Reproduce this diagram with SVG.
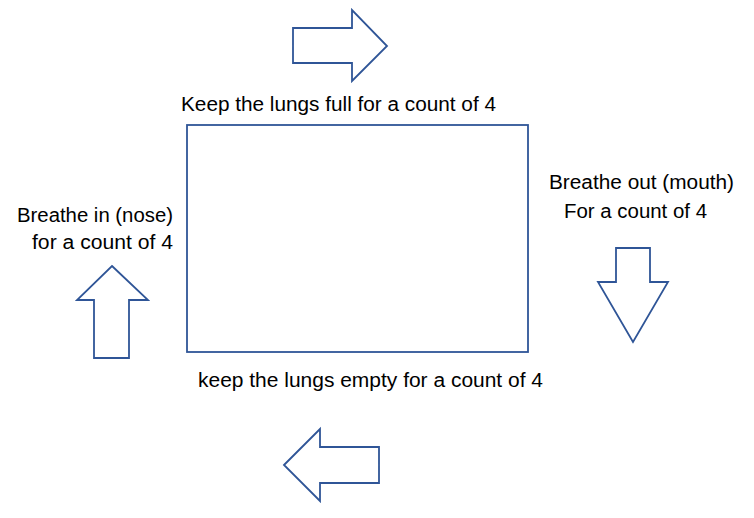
<svg xmlns="http://www.w3.org/2000/svg" width="754" height="518" viewBox="0 0 754 518">
<style>
.shape{fill:#ffffff;stroke:#2f5597;stroke-width:1.8;stroke-linejoin:miter}
.lbl{font-family:"Liberation Sans",Arial,sans-serif;font-size:19.5px;fill:#000000}
</style>
<rect width="754" height="518" fill="#ffffff"/>
<g id="box">
<rect class="shape" x="187" y="125" width="341" height="227"/>
</g>
<g id="connectors">
<polygon id="arrow-right" class="shape" points="293,28 352,28 352,10 387,46 352,81 352,63 293,63"/>
<polygon id="arrow-down" class="shape" points="616,248 650,248 650,282 668,282 633,342 598,282 616,282"/>
<polygon id="arrow-left" class="shape" points="284,465 320,429 320,447 379,447 379,483 320,483 320,501"/>
<polygon id="arrow-up" class="shape" points="112,266 148,300 129,300 129,358 94,358 94,300 77,300"/>
</g>
<g id="label-top">
<text class="lbl" x="181" y="111" textLength="315" lengthAdjust="spacingAndGlyphs">Keep the lungs full for a count of 4</text>
</g>
<g id="label-left">
<text class="lbl" x="17" y="222" textLength="156" lengthAdjust="spacingAndGlyphs">Breathe in (nose)</text>
<text class="lbl" x="32" y="249" textLength="141" lengthAdjust="spacingAndGlyphs">for a count of 4</text>
</g>
<g id="label-right">
<text class="lbl" x="549" y="189" textLength="185" lengthAdjust="spacingAndGlyphs">Breathe out (mouth)</text>
<text class="lbl" x="564" y="218" textLength="143" lengthAdjust="spacingAndGlyphs">For a count of 4</text>
</g>
<g id="label-bottom">
<text class="lbl" x="198" y="387" textLength="345" lengthAdjust="spacingAndGlyphs">keep the lungs empty for a count of 4</text>
</g>
</svg>
